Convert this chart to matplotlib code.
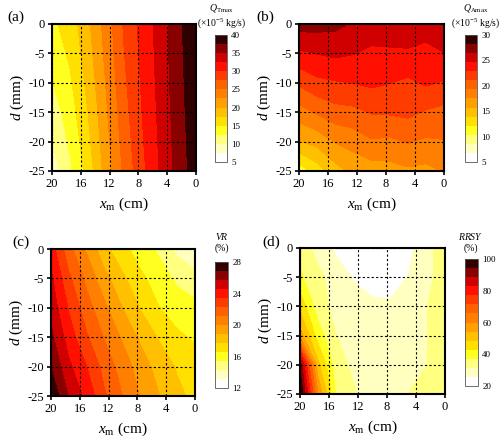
import matplotlib
matplotlib.use('Agg')
import matplotlib.pyplot as plt
import numpy as np

plt.rcParams['font.family'] = ['Liberation Serif', 'DejaVu Serif']
plt.rcParams['mathtext.fontset'] = 'custom'
plt.rcParams['mathtext.rm'] = 'Liberation Serif'
plt.rcParams['mathtext.it'] = 'Liberation Serif:italic'
plt.rcParams['axes.unicode_minus'] = False

# grid of measurement positions
xm = [20, 17.5, 15, 12.5, 10, 7.5, 5, 2.5, 0]
depth = [0, -5, -10, -15, -20, -25]

# (a) Q_Tmax (x10^-5 kg/s), rows = depth, cols = xm
q_tmax = [[14.5, 16.0, 19.5, 23.5, 27.8, 30.8, 33.5, 36.8, 39.5],
          [13.6, 15.4, 18.9, 23.1, 27.4, 30.6, 33.4, 36.7, 39.5],
          [12.4, 14.6, 18.2, 22.6, 27.0, 30.3, 33.3, 36.5, 39.4],
          [11.2, 13.7, 17.5, 22.1, 26.5, 30.0, 33.1, 36.3, 39.3],
          [10.0, 12.9, 16.8, 21.6, 26.0, 29.7, 32.9, 36.1, 39.1],
          [8.5, 12.0, 16.0, 21.0, 25.5, 29.3, 32.7, 35.9, 38.9]]

# (b) Q_Amax (x10^-5 kg/s)
q_amax = [[27.2, 27.1, 26.9, 26.2, 25.9, 25.9, 25.8, 25.5, 25.8],
          [24.3, 24.7, 25.0, 24.7, 24.2, 24.3, 24.4, 24.1, 24.6],
          [21.4, 22.4, 22.7, 22.9, 23.2, 22.9, 22.5, 23.1, 22.7],
          [18.5, 19.5, 20.4, 20.6, 21.2, 21.3, 21.5, 20.9, 20.5],
          [15.6, 16.3, 17.6, 18.2, 19.1, 18.9, 19.4, 19.0, 19.2],
          [11.0, 13.0, 15.0, 16.2, 16.6, 16.8, 17.2, 17.0, 17.6]]

# (c) VR (%)
vr = [[24.0, 21.5, 19.8, 18.0, 16.9, 16.0, 15.2, 14.0, 13.6],
      [24.8, 22.5, 20.8, 19.2, 17.9, 16.8, 16.0, 15.2, 14.6],
      [25.3, 23.3, 21.6, 20.2, 18.8, 17.6, 16.6, 16.0, 15.8],
      [26.0, 24.0, 22.4, 21.0, 19.8, 18.6, 17.6, 16.8, 16.4],
      [26.8, 24.8, 23.4, 21.8, 20.6, 19.4, 18.4, 17.6, 17.2],
      [27.8, 25.6, 24.2, 22.4, 21.1, 19.9, 18.9, 18.0, 17.4]]

# (d) RRSY (%)
rrsy = [[35, 29, 24.5, 22, 21, 21.5, 24, 30, 34],
        [38, 33, 28.5, 25.2, 24, 23.5, 26, 30.5, 33],
        [47, 34, 29.5, 28, 26.5, 26.5, 27.5, 31.4, 33],
        [57, 40, 31.5, 29, 28, 28, 28.5, 31.4, 33.5],
        [93, 50, 34, 30, 28, 28, 28.5, 31.4, 34],
        [100, 60, 36, 32, 28, 28, 31.5, 33, 34]]

colors = ['#ffffff', '#ffffc0', '#ffff80', '#ffff20', '#ffe000', '#ffc000',
          '#ffa000', '#ff8000', '#ff6000', '#ff3c00', '#ff1000', '#d00000',
          '#880000', '#300000']

fig = plt.figure(figsize=(5, 4.46), dpi=100)


def panel(rect, crect, data, vmin, vmax, cticks, letter, lpos, title, tpos):
    ax = fig.add_axes(rect)
    levels = np.linspace(vmin, vmax, 15)
    cs = ax.contourf(xm, depth, data, levels=levels, colors=colors)
    ax.set_xlim(20, 0)
    ax.set_ylim(-25, 0)
    ax.set_xticks([20, 16, 12, 8, 4, 0])
    ax.set_yticks([0, -5, -10, -15, -20, -25])
    ax.grid(True, color='black', linestyle=(0, (2, 2)), linewidth=0.8)
    ax.set_axisbelow(False)
    ax.tick_params(labelsize=9, length=3, width=1.2, direction='out', pad=2)
    for s in ax.spines.values():
        s.set_linewidth(1.5)
    ax.set_xlabel(r'$x_{\rm m}$ (cm)', fontsize=11, labelpad=4)
    ax.set_ylabel(r'$d$ (mm)', fontsize=11, labelpad=2)
    cax = fig.add_axes(crect)
    cb = fig.colorbar(cs, cax=cax, ticks=cticks)
    cb.ax.tick_params(labelsize=6.5, length=0, pad=3)
    cb.outline.set_linewidth(0.6)
    cb.outline.set_edgecolor('#555555')
    fig.text(lpos[0], lpos[1], letter, fontsize=11, ha='left', va='center')
    fig.text(tpos[0], tpos[1], title, fontsize=7, ha='center', va='center',
             linespacing=1.3)


panel([0.104, 0.6166, 0.288, 0.3296], [0.43, 0.6368, 0.024, 0.2848],
      q_tmax, 5, 40, [5, 10, 15, 20, 25, 30, 35, 40], '(a)', (0.014, 1 - 17 / 446),
      '$\\mathit{Q}_{\\rm Tmax}$\n(×10$^{-5}$ kg/s)', (0.443, 1 - 16 / 446))
panel([0.598, 0.6166, 0.29, 0.3296], [0.93, 0.6368, 0.024, 0.2848],
      q_amax, 5, 30, [5, 10, 15, 20, 25, 30], '(b)', (0.512, 1 - 17 / 446),
      '$\\mathit{Q}_{\\rm Amax}$\n(×10$^{-5}$ kg/s)', (0.952, 1 - 16 / 446))
panel([0.102, 0.1121, 0.288, 0.3296], [0.43, 0.130, 0.026, 0.2825],
      vr, 12, 28, [12, 16, 20, 24, 28], '(c)', (0.024, 1 - 242 / 446),
      '$\\mathit{VR}$\n(%)', (0.444, 1 - 242 / 446))
panel([0.6, 0.1166, 0.29, 0.3274], [0.93, 0.1345, 0.026, 0.2848],
      rrsy, 20, 100, [20, 40, 60, 80, 100], '(d)', (0.524, 1 - 242 / 446),
      '$\\mathit{RRSY}$\n(%)', (0.942, 1 - 242 / 446))

fig.savefig('out.png', dpi=100)
